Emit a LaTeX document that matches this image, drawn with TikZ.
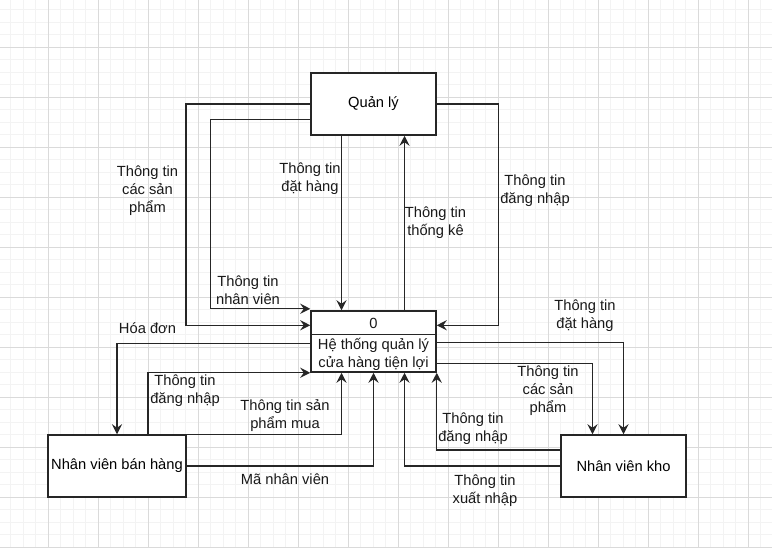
\documentclass[tikz,border=0pt]{standalone}
\usepackage{fontspec}
\setmainfont{Liberation Sans}
\usetikzlibrary{arrows.meta}
\begin{document}
\begin{tikzpicture}[x=1pt,y=-1pt,
  gridminor/.style={draw={rgb,255:red,243;green,243;blue,243}, line width=0.9pt},
  gridmajor/.style={draw={rgb,255:red,218;green,218;blue,218}, line width=0.9pt},
  box/.style={draw=black!85, line width=1.5pt, fill=white, minimum width=125pt, minimum height=62pt, inner sep=0pt, font=\fontsize{14.7pt}{18pt}\selectfont},
  divider/.style={draw=black!85, line width=1.5pt},
  arr/.style={draw=black!85, line width=1.4pt, -{Stealth[length=10pt,width=10pt,inset=3.5pt]}},
  lbl/.style={align=center, inner sep=0pt, font=\fontsize{14.7pt}{18pt}\selectfont, text=black!90}
]
\useasboundingbox[fill=white] (0,0) rectangle (772,547);
% grid
\foreach \i in {0,...,61} { \draw[gridminor] ({10.8+12.5*\i},0) -- ({10.8+12.5*\i},547); }
\foreach \i in {0,...,44} { \draw[gridminor] (0,{9.8+12.5*\i}) -- (772,{9.8+12.5*\i}); }
\foreach \i in {0,...,14} { \draw[gridmajor] ({48.3+50*\i},0) -- ({48.3+50*\i},547); }
\foreach \i in {0,...,10} { \draw[gridmajor] (0,{47.3+50*\i}) -- (772,{47.3+50*\i}); }

% boxes
\node[box] (ql) at (373.5,104) {Quản lý};
\node[box, minimum height=61pt] (sys) at (373.5,341.5) {};
\draw[divider] ([yshift=-24pt]sys.north west) -- ([yshift=-24pt]sys.north east);
\node[lbl] (sysnum) at (373.5,323.5) {0};
\node[lbl] (systxt) at (373.5,354) {Hệ thống quản lý\\cửa hàng tiện lợi};
\node[box, minimum width=138pt] (bh) at (117,466) {Nhân viên bán hàng};
\node[box] (kho) at (623.5,466) {Nhân viên kho};

% connectors Quan ly <-> system
\draw[arr] (ql.west) -| (186,200) |- ([yshift=-15pt]sys.north west);
\draw[arr] ([yshift=-15.5pt]ql.west) -| (210.5,200) |- ([yshift=1.5pt]sys.north west);
\draw[arr] ([xshift=-32pt]ql.south) -- ([xshift=-32pt]sys.north);
\draw[arr] ([xshift=31pt]sys.north) -- ([xshift=31pt]ql.south);
\draw[arr] (ql.east) -| (498.5,200) |- ([yshift=-15pt]sys.north east);

% connectors Nhan vien ban hang
\draw[arr] ([yshift=-33.5pt]sys.north west) -| (bh.north);
\draw[arr] ([xshift=31pt]bh.north) |- (sys.south west);
\draw[arr] (bh.north east) -| ([xshift=-32pt]sys.south);
\draw[arr] (bh.east) -| (sys.south);

% connectors Nhan vien kho
\draw[arr] ([yshift=-32.5pt]sys.north east) -| (kho.north);
\draw[arr] ([yshift=9.5pt]sys.south east) -| ([xshift=-31pt]kho.north);
\draw[arr] ([yshift=16pt]kho.west) -| (sys.south east);
\draw[arr] (kho.west) -| ([xshift=31pt]sys.south);

% labels
\node[lbl] (l1) at (147.5,191) {Thông tin\\các sản\\phẩm};
\node[lbl] (l2) at (248,290.5) {Thông tin\\nhân viên};
\node[lbl] (l3) at (310,179) {Thông tin\\đặt hàng};
\node[lbl] (l4) at (435.5,223) {Thông tin\\thống kê};
\node[lbl] (l5) at (535,191) {Thông tin\\đăng nhập};
\node[lbl] (l6) at (147.5,328) {Hóa đơn};
\node[lbl] (l7) at (185,391) {Thông tin\\đăng nhập};
\node[lbl] (l8) at (285,416) {Thông tin sản\\phẩm mua};
\node[lbl] (l9) at (285,479) {Mã nhân viên};
\node[lbl] (l10) at (585,316) {Thông tin\\đặt hàng};
\node[lbl] (l11) at (548,390.5) {Thông tin\\các sản\\phẩm};
\node[lbl] (l12) at (473,429) {Thông tin\\đăng nhập};
\node[lbl] (l13) at (485,491) {Thông tin\\xuất nhập};
\end{tikzpicture}
\end{document}
